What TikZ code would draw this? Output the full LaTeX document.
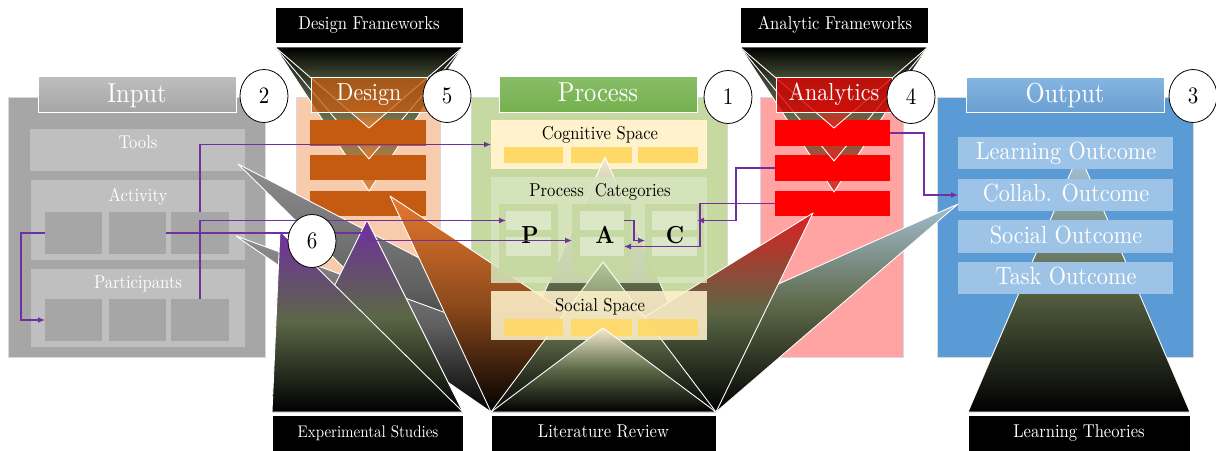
\documentclass[tikz,border=0pt]{standalone}
\usepackage{graphicx}
\usetikzlibrary{arrows.meta,shapes.geometric}
\definecolor{inbg}{HTML}{A6A6A6}
\definecolor{inttl}{HTML}{AEAEAE}
\definecolor{inbox}{HTML}{BFBFBF}
\definecolor{dsbg}{HTML}{F8CBAD}
\definecolor{dsbar}{HTML}{C55A11}
\definecolor{dsfun}{HTML}{E08038}
\definecolor{prbg}{HTML}{C5D9A0}
\definecolor{prttl}{HTML}{74B14E}
\definecolor{cogbg}{HTML}{FFF2CC}
\definecolor{ybar}{HTML}{FFD966}
\definecolor{catbg}{HTML}{D8E5C0}
\definecolor{catcol}{HTML}{C5D9A0}
\definecolor{catsub}{HTML}{DBE7C6}
\definecolor{anbg}{HTML}{FFA3A3}
\definecolor{anbar}{HTML}{FF0000}
\definecolor{anfun}{HTML}{DE2A1E}
\definecolor{outbg}{HTML}{5B9BD5}
\definecolor{outttl}{HTML}{70A8DC}
\definecolor{outbox}{HTML}{9DC3E6}
\definecolor{arr}{HTML}{7030A0}
\definecolor{olv}{HTML}{5B6746}
\definecolor{trgray}{HTML}{8E8E8E}
\definecolor{trorange}{HTML}{E8792F}
\definecolor{trbrown}{HTML}{8E4A1C}
\definecolor{trred}{HTML}{DC2020}
\definecolor{trblue}{HTML}{A3BDD0}
\definecolor{trcream}{HTML}{F3EBCF}
\definecolor{trgreen}{HTML}{B5C79A}
\definecolor{trout}{HTML}{A9C7DF}
% text: Latin Modern at 10pt design size, scaled (slightly taller than wide)
\newcommand{\vt}[2]{\scalebox{#1}[\fpeval{#1*1.12}]{\fontsize{10}{12}\selectfont #2}}
\newcommand{\bx}[6]{\node[inner sep=0pt, outer sep=0pt, anchor=north west,
  minimum width={(#4-#2)*1pt}, minimum height={(#5-#3)*1pt}, #6] (#1) at (#2,#3) {};}
\tikzset{
  ttl/.style={draw=white, line width=0.9pt},
  lbl/.style={anchor=base, inner sep=0pt},
  tri/.style={draw=white, line width=0.9pt, line join=round},
  dfun/.style={tri, fill opacity=0.92, top color=black, bottom color=dsfun, middle color=olv},
  afun/.style={tri, fill opacity=0.92, top color=black, bottom color=anfun, middle color=olv},
  num/.style={ellipse, draw=black, fill=white, line width=0.8pt, minimum width=48pt,
    minimum height=53pt, inner sep=0pt},
  src/.style={fill=black, draw=white, line width=1pt},
  con/.style={draw=arr, line width=1.1pt, -{Latex[length=7pt,width=6pt]}},
}
\begin{document}
\begin{tikzpicture}[x=1pt,y=-1pt]
\useasboundingbox (0,0) rectangle (1216,450);
% module backgrounds
\bx{inmod}{8}{97}{265}{357}{fill=inbg, draw=black!15}
\bx{dsmod}{296}{97}{440}{357}{fill=dsbg, draw=black!15}
\bx{prmod}{471}{97}{727}{357}{fill=prbg, draw=black!15}
\bx{anmod}{760}{97}{903}{357}{fill=anbg, draw=black!15}
\bx{outmod}{937}{97}{1193}{357}{fill=outbg, draw=black!15}
% input inner
\bx{tools}{30}{129}{245}{171}{fill=inbox}
\node[lbl, text=white] (toolst) at (138,148) {\vt{1.66}{Tools}};
\bx{act}{31}{180}{245}{260}{fill=inbox}
\node[lbl, text=white] (actt) at (138,201) {\vt{1.66}{Activity}};
\bx{act1}{45}{212}{102}{254}{fill=inbg}
\bx{act2}{109}{212}{166}{254}{fill=inbg}
\bx{act3}{171}{212}{229}{254}{fill=inbg}
\bx{par}{31}{269}{245}{347}{fill=inbox}
\node[lbl, text=white] (part) at (138,288) {\vt{1.66}{Participants}};
\bx{par1}{45}{299}{102}{341}{fill=inbg}
\bx{par2}{109}{299}{166}{341}{fill=inbg}
\bx{par3}{171}{299}{229}{341}{fill=inbg}
% cognitive space
\bx{cog}{491}{120}{707}{169}{fill=cogbg}
\node[lbl] (cogt) at (600,139) {\vt{1.66}{Cognitive Space}};
\bx{cog1}{504}{147}{563}{163}{fill=ybar}
\bx{cog2}{571}{147}{632}{163}{fill=ybar}
\bx{cog3}{638}{147}{698}{163}{fill=ybar}
% output funnel and outcome boxes
\bx{lt}{968}{415}{1190}{452}{src}
\node[lbl, text=white] (ltt) at (1079,437) {\vt{1.66}{Learning Theories}};
\coordinate (ltL) at (968,412); \coordinate (ltR) at (1190,412);
\shadedraw[tri, top color=trout, bottom color=black, middle color=olv] (ltL) -- (ltR) -- (1079,153) -- cycle;
\bx{lo}{958}{137}{1173}{169}{fill=outbox}
\bx{co}{958}{179}{1173}{211}{fill=outbox}
\bx{so}{958}{220}{1173}{253}{fill=outbox}
\bx{to}{958}{262}{1173}{294}{fill=outbox}
\node[lbl, text=white] (lot) at (1066,159) {\vt{2.22}{Learning Outcome}};
\node[lbl, text=white] (cot) at (1066,201) {\vt{2.22}{Collab. Outcome}};
\node[lbl, text=white] (sot) at (1066,243) {\vt{2.22}{Social Outcome}};
\node[lbl, text=white] (tot) at (1066,284) {\vt{2.22}{Task Outcome}};
% design frameworks funnel, interleaved with the bars
\bx{dfw}{275}{7}{463}{43}{src}
\node[lbl, text=white] (dfwt) at (369,29) {\vt{1.66}{Design Frameworks}};
\coordinate (dfL) at (275,47); \coordinate (dfR) at (463,47);
\bx{ds3}{310}{191}{426}{216}{fill=dsbar}
\shadedraw[dfun] (dfL) -- (dfR) -- (369,191) -- cycle;
\bx{ds2}{310}{155}{426}{180}{fill=dsbar}
\shadedraw[dfun] (dfL) -- (dfR) -- (369,159) -- cycle;
\bx{ds1}{310}{120}{426}{146}{fill=dsbar}
\shadedraw[dfun] (dfL) -- (dfR) -- (369,128) -- cycle;
\bx{dsttl}{311}{77}{427}{112}{ttl, fill=dsbar, fill opacity=0.75}
\node[lbl, text=white] (dsttlt) at (369,100) {\vt{2.2}{Design}};
% analytic frameworks funnel, interleaved with the bars
\bx{afw}{740}{7}{928}{43}{src}
\node[lbl, text=white] (afwt) at (835,29) {\vt{1.66}{Analytic Frameworks}};
\coordinate (afL) at (740,47); \coordinate (afR) at (928,47);
\bx{an3}{775}{191}{890}{216}{fill=anbar}
\shadedraw[afun] (afL) -- (afR) -- (834,192) -- cycle;
\bx{an2}{775}{155}{890}{181}{fill=anbar}
\shadedraw[afun] (afL) -- (afR) -- (834,161) -- cycle;
\bx{an1}{775}{120}{890}{146}{fill=anbar}
\shadedraw[afun] (afL) -- (afR) -- (834,128) -- cycle;
\bx{anttl}{776}{77}{892}{112}{ttl, fill=red!85!black, fill opacity=0.8}
\node[lbl, text=white] (anttlt) at (834,100) {\vt{2.2}{Analytics}};
% literature review triangles
\bx{lr}{491}{415}{716}{452}{src}
\node[lbl, text=white] (lrt) at (603.5,437) {\vt{1.66}{Literature Review}};
\coordinate (lrL) at (491,412); \coordinate (lrR) at (716,412);
\shadedraw[tri, top color=trcream, bottom color=black, middle color=olv] (lrL) -- (lrR) -- (605,157) -- cycle;
\shadedraw[tri, top color=trgray, bottom color=black, middle color=black!62] (lrL) -- (lrR) -- (238,164) -- cycle;
\shadedraw[tri, top color=trgray, bottom color=black, middle color=black!62] (lrL) -- (lrR) -- (236,236) -- cycle;
\shadedraw[tri, top color=trorange, bottom color=black, middle color=trbrown] (lrL) -- (lrR) -- (390,196) -- cycle;
\shadedraw[tri, top color=trblue, bottom color=black, middle color=olv] (lrL) -- (lrR) -- (958,204) -- cycle;
\shadedraw[tri, top color=trred, bottom color=black, middle color=olv] (lrL) -- (lrR) -- (813,213) -- cycle;
% process categories
\bx{cat}{491}{177}{707}{283}{fill=catbg, fill opacity=0.85}
\node[lbl] (catt) at (600,196) {\vt{1.66}{Process~~Categories}};
\bx{pcol}{499}{204}{558}{277}{fill=catcol, fill opacity=0.9}
\bx{acol}{572}{204}{631}{277}{fill=catcol, fill opacity=0.9}
\bx{ccol}{645}{204}{704}{277}{fill=catcol, fill opacity=0.9}
\bx{pup}{506}{211}{551}{230}{fill=catsub}
\bx{plow}{506}{237}{551}{256}{fill=catsub}
\bx{aup}{580}{211}{624}{230}{fill=catsub}
\bx{alow}{580}{237}{624}{256}{fill=catsub}
\bx{cup}{652}{211}{697}{230}{fill=catsub}
\bx{clow}{652}{237}{697}{256}{fill=catsub}
\node[lbl] (pl) at (530,243) {\vt{2.2}{\bfseries P}};
\node[lbl] (al) at (605,243) {\vt{2.2}{\bfseries A}};
\node[lbl] (cl) at (675,243) {\vt{2.2}{\bfseries C}};
\shadedraw[tri, top color=trgreen, bottom color=black, middle color=olv] (lrL) -- (lrR) -- (603,262) -- cycle;
% social space
\bx{soc}{491}{291}{707}{340}{fill=cogbg, fill opacity=0.88}
\node[lbl] (soct) at (600,311) {\vt{1.66}{Social Space}};
\bx{soc1}{504}{319}{563}{336}{fill=ybar, fill opacity=0.9}
\bx{soc2}{571}{319}{632}{336}{fill=ybar, fill opacity=0.9}
\bx{soc3}{638}{319}{698}{336}{fill=ybar, fill opacity=0.9}
\shadedraw[tri, top color=trcream, bottom color=black, middle color=olv] (lrL) -- (lrR) -- (603,328) -- cycle;
% experimental studies triangles
\bx{es}{272}{415}{463}{452}{src}
\node[lbl, text=white] (est) at (368,437) {\vt{1.5}{Experimental Studies}};
\coordinate (esL) at (272,412); \coordinate (esR) at (463,412);
\shadedraw[tri, top color=arr, bottom color=black, middle color=olv] (esL) -- (esR) -- (367,220) -- cycle;
\shadedraw[tri, top color=arr, bottom color=black, middle color=olv] (esL) -- (esR) -- (280,231) -- cycle;
% titles
\bx{inttlb}{38}{76}{236}{112}{ttl, top color=inttl!80!white, bottom color=inttl!95!black}
\node[lbl, text=white] (inttlt) at (137,102) {\vt{2.45}{Input}};
\bx{prttlb}{499}{76}{697}{112}{ttl, top color=prttl!85!white, bottom color=prttl}
\node[lbl, text=white] (prttlt) at (598,101) {\vt{2.45}{Process}};
\bx{outttlb}{966}{77}{1164}{112}{ttl, top color=outttl!85!white, bottom color=outttl!95!black}
\node[lbl, text=white] (outttlt) at (1065,102) {\vt{2.45}{Output}};
% connectors
\draw[con] (act3.north) |- (cog.west);
\draw[con] (par3.north) |- (pup.west);
\draw[con] (act2.east) -- ++(201,0) |- (acol.west);
\draw[con] (aup.east) -- ++(10,0) |- (ccol.west);
\draw[con] (an2.west) -- ++(-39,0) |- (cup.east);
\draw[con] (an3.west) -- ++(-75,0) |- (alow.east);
\draw[con] (an1.east) -- ++(34,0) |- (co.west);
\draw[con] (act1.west) -- ++(-24,0) |- (par1.west);
% numbers
\node[num] (n2) at (264,96) {\vt{2.1}{2}};
\node[num] (n5) at (447,96) {\vt{2.1}{5}};
\node[num] (n1) at (728,97) {\vt{2.1}{1}};
\node[num] (n4) at (911,97) {\vt{2.1}{4}};
\node[num] (n3) at (1193,96) {\vt{2.1}{3}};
\node[num] (n6) at (312,241) {\vt{2.1}{6}};
\end{tikzpicture}
\end{document}
